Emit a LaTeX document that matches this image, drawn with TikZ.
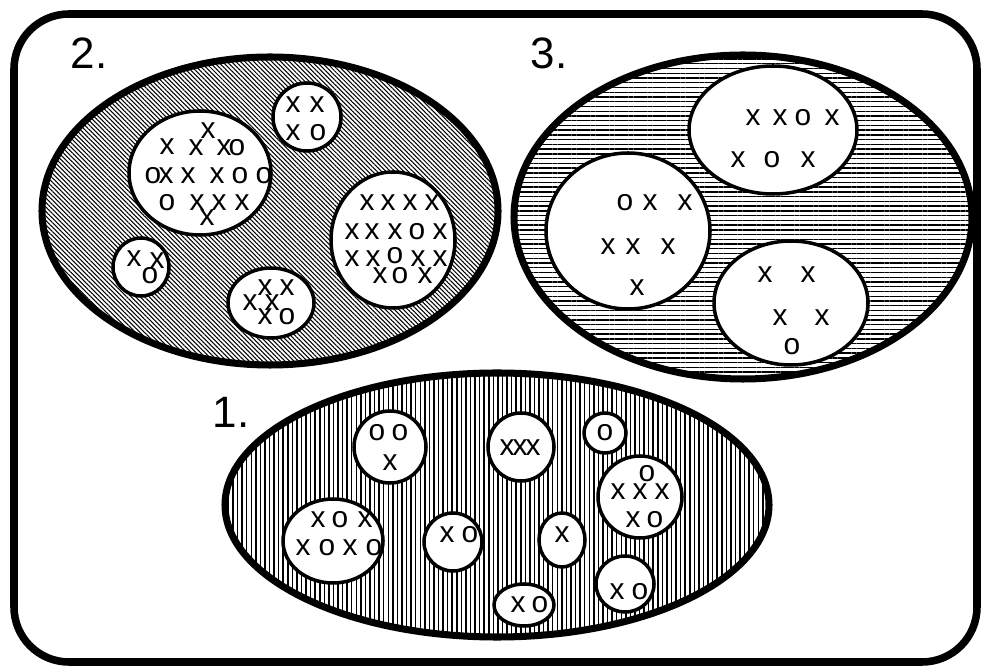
\documentclass[tikz,border=0pt]{standalone}
\usepackage{fontspec}
\setmainfont{Liberation Sans}
\usetikzlibrary{patterns.meta}
\newcommand{\mkfont}{\fontsize{17}{17}\selectfont}
\newcommand{\numfont}{\fontsize{25}{25}\selectfont}

\begin{document}
\begin{tikzpicture}[x=0.02cm, y=-0.02cm,
    frame/.style={line width=4.3pt, rounded corners=1.1cm},
    setline/.style={line width=4pt},
    hatchdiag/.style={pattern={Lines[angle=-45, distance=1.8pt, line width=0.6pt]}},
    hatchhor/.style={pattern={Lines[angle=0, distance=2.7pt, line width=0.8pt]}},
    hatchver/.style={pattern={Lines[angle=90, distance=2.6pt, line width=0.85pt]}},
    sub/.style={line width=2pt, fill=white},
    mk/.style={font=\mkfont, inner sep=0pt},
    num/.style={font=\numfont, inner sep=0pt}
]
\useasboundingbox (0,0) rectangle (987,671);
\draw[frame] (14,14) rectangle (977,662);

\draw[setline, hatchdiag] (270,211) ellipse [x radius=228, y radius=154];
\draw[setline, hatchhor] (743,217) ellipse [x radius=229, y radius=162];
\draw[setline, hatchver] (497,505) ellipse [x radius=272, y radius=132];

\draw[sub] (200,173) ellipse [x radius=71, y radius=62];
\draw[sub] (307,117) ellipse [x radius=34, y radius=34];
\draw[sub] (393,240) ellipse [x radius=62, y radius=68];
\draw[sub] (141,267) ellipse [x radius=28, y radius=29];
\draw[sub] (271,303) ellipse [x radius=43, y radius=35];

\draw[sub] (773,130) ellipse [x radius=84, y radius=64];
\draw[sub] (628,231) ellipse [x radius=82, y radius=78];
\draw[sub] (791,303) ellipse [x radius=77, y radius=62];

\draw[sub] (390,447) ellipse [x radius=36, y radius=36];
\draw[sub] (521,447) ellipse [x radius=33, y radius=34];
\draw[sub] (605,433) ellipse [x radius=21, y radius=20];
\draw[sub] (640,497) ellipse [x radius=42, y radius=41];
\draw[sub] (333,541) ellipse [x radius=50, y radius=42];
\draw[sub] (453,542) ellipse [x radius=29, y radius=29];
\draw[sub] (562,540) ellipse [x radius=23, y radius=27];
\draw[sub] (524,605) ellipse [x radius=30, y radius=21];
\draw[sub] (625,584) ellipse [x radius=29, y radius=28];

\node[num] (lab2) at (89,53) {2.};
\node[num] (lab3) at (549,53) {3.};
\node[num] (lab1) at (231,412) {1.};

\foreach \t/\x/\y [count=\i] in {x/167/147, x/196/148, x/208/131, x/224/148, o/237/148,
    o/153/176, x/166/176, x/188/176, x/217/176, o/240/176, o/264/176,
    o/167/203, x/197/203, x/219/203, x/242/203, x/207/218,
    x/293/105, x/317/105, x/293/133, o/318/133,
    x/134/259, x/157/261, o/150/276,
    x/265/288, x/287/288, x/250/303, x/272/303, x/265/317, o/287/317}
  \node[mk] (a\i) at (\x,\y) {\t};
\foreach \t/\x/\y [count=\i] in {x/367/203, x/388/203, x/410/203, x/432/203,
    x/352/232, x/372/232, x/395/232, o/417/232, x/440/232,
    x/352/259, x/373/259, o/395/256, x/418/259, x/440/259,
    x/380/276, o/400/276, x/425/276}
  \node[mk] (b\i) at (\x,\y) {\t};
\foreach \t/\x/\y [count=\i] in {x/753/118, x/780/118, o/803/118, x/832/118,
    x/738/160, o/772/160, x/808/160,
    o/625/203, x/650/203, x/685/203, x/608/247, x/633/247, x/668/247, x/637/288,
    x/765/275, x/808/275, x/780/318, x/822/318, o/792/347}
  \node[mk] (c\i) at (\x,\y) {\t};
\foreach \t/\x/\y [count=\i] in {o/377/433, o/400/433, x/390/463,
    x/507/448, x/520/448, x/533/448, o/605/433,
    o/647/474, x/618/492, x/640/492, x/662/492, x/633/520, o/655/520,
    x/318/520, o/340/520, x/365/520, x/303/548, o/327/548, x/350/548, o/374/548,
    x/447/535, o/470/535, x/562/535, x/518/605, o/540/605, x/617/592, o/640/592}
  \node[mk] (d\i) at (\x,\y) {\t};
\end{tikzpicture}
\end{document}
